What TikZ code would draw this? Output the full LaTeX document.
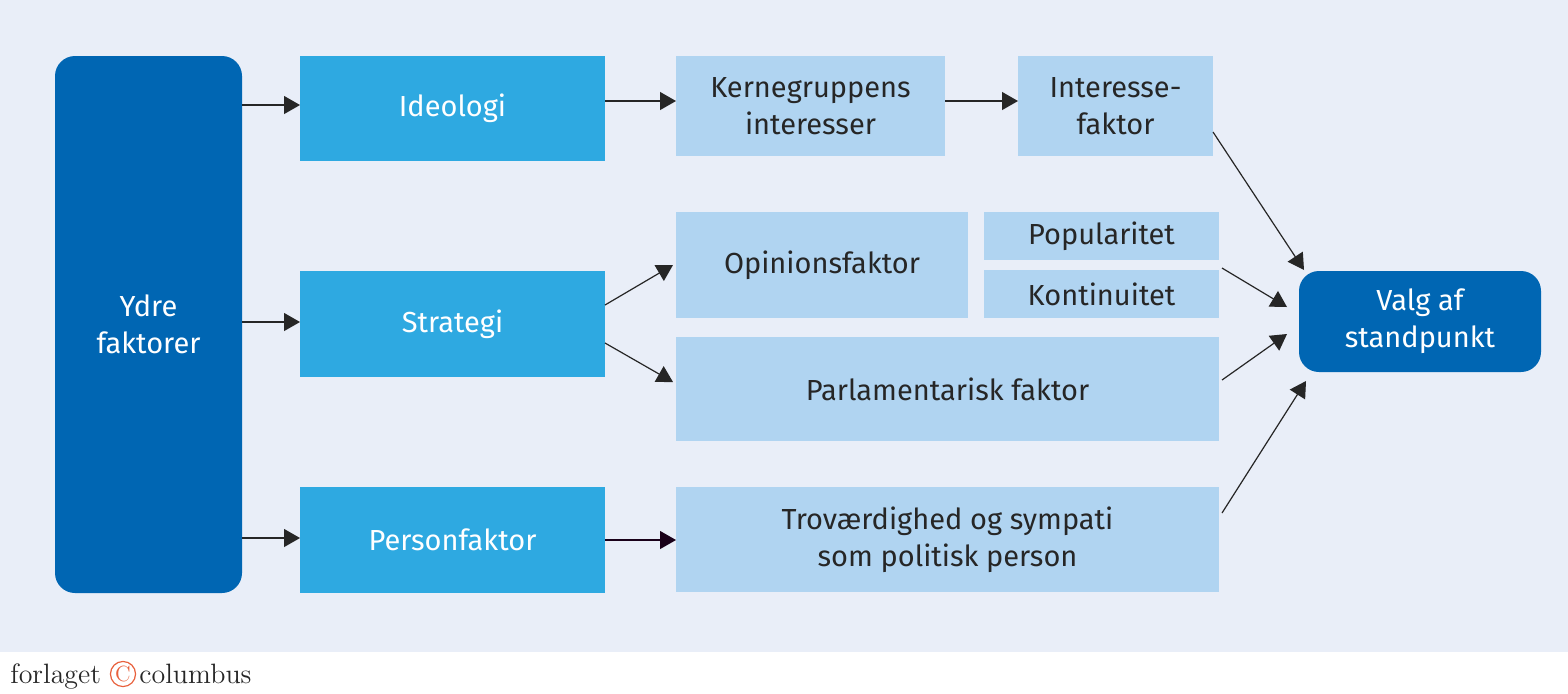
\documentclass[tikz,border=0pt]{standalone}
\usepackage{fontspec}
\newfontfamily\sans{Fira Sans}
\usetikzlibrary{arrows.meta}
\definecolor{bg}{HTML}{E9EEF8}
\definecolor{dark}{HTML}{0066B3}
\definecolor{mid}{HTML}{2EA9E1}
\definecolor{light}{HTML}{B0D4F1}
\definecolor{logoc}{HTML}{E8603C}
\begin{document}
\begin{tikzpicture}[x=0.5pt,y=-0.5pt,
  box/.style={inner sep=0pt,align=center,font=\sans\fontsize{14.5}{18.5}\selectfont},
  darkbox/.style={box,fill=dark,text=white,rounded corners=10pt},
  midbox/.style={box,fill=mid,text=white},
  lightbox/.style={box,fill=light,text=black!85},
  arr/.style={-{Triangle[length=8pt,width=9pt]},line width=0.6pt,draw=black!85}]
\useasboundingbox (0,0) rectangle (1568,693);
\fill[bg] (0,0) rectangle (1568,652);
\def\bx#1#2#3#4#5#6#7{\path[#2] (#3,#4) rectangle (#5,#6) node[#2,fill=none,midway] (#1) {#7};
  \coordinate (#1-nw) at (#3,#4); \coordinate (#1-se) at (#5,#6);}
\bx{ydre}{darkbox}{55}{56}{242}{593}{Ydre\\faktorer}
\bx{ide}{midbox}{300}{56}{605}{161}{Ideologi}
\bx{str}{midbox}{300}{271}{605}{377}{Strategi}
\bx{per}{midbox}{300}{487}{605}{593}{Personfaktor}
\bx{ker}{lightbox}{676}{56}{945}{156}{Kernegruppens\\interesser}
\bx{int}{lightbox}{1018}{56}{1213}{156}{Interesse-\\faktor}
\bx{opi}{lightbox}{676}{212}{968}{318}{Opinionsfaktor}
\bx{pop}{lightbox}{984}{212}{1219}{260}{Popularitet}
\bx{kon}{lightbox}{984}{270}{1219}{318}{Kontinuitet}
\bx{par}{lightbox}{676}{337}{1219}{441}{Parlamentarisk faktor}
\bx{tro}{lightbox}{676}{487}{1219}{592}{Troværdighed og sympati\\som politisk person}
\bx{val}{darkbox}{1299}{271}{1541}{372}{Valg af\\standpunkt}
\coordinate (a1) at (242,105); \coordinate (b1) at (300,105);
\coordinate (a2) at (242,322); \coordinate (b2) at (300,322);
\coordinate (a3) at (242,538); \coordinate (b3) at (300,538);
\draw[arr] (a1) -- (b1); \draw[arr] (a2) -- (b2); \draw[arr] (a3) -- (b3);
\coordinate (c1) at (605,101); \coordinate (d1) at (676,101);
\coordinate (c2) at (945,101); \coordinate (d2) at (1018,101);
\draw[arr] (c1) -- (d1); \draw[arr] (c2) -- (d2);
\coordinate (s1) at (605,305); \coordinate (t1) at (673,265);
\coordinate (s2) at (605,343); \coordinate (t2) at (673,382);
\draw[arr] (s1) -- (t1); \draw[arr] (s2) -- (t2);
\coordinate (p1) at (605,540); \coordinate (q1) at (676,540);
\draw[arr,draw=black!80!violet] (p1) -- (q1);
\coordinate (i1) at (1213,132); \coordinate (j1) at (1304,270);
\coordinate (i2) at (1222,268); \coordinate (j2) at (1287,307);
\coordinate (i3) at (1222,380); \coordinate (j3) at (1287,334);
\coordinate (i4) at (1222,513); \coordinate (j4) at (1306,381);
\draw[arr] (i1) -- (j1); \draw[arr] (i2) -- (j2); \draw[arr] (i3) -- (j3); \draw[arr] (i4) -- (j4);
\node[anchor=base west,inner sep=0pt,font=\fontsize{14}{16}\selectfont,text=black!85] (logo1) at (10,683) {forlaget};
\node[circle,draw=logoc,line width=0.6pt,text=logoc,inner sep=0.5pt,minimum size=12pt,font=\fontsize{11}{12}\selectfont] (logoc) at (123,674) {C};
\node[anchor=base west,inner sep=0pt,font=\fontsize{14}{16}\selectfont,text=black!85] (logo2) at (139,683) {columbus};
\end{tikzpicture}
\end{document}
